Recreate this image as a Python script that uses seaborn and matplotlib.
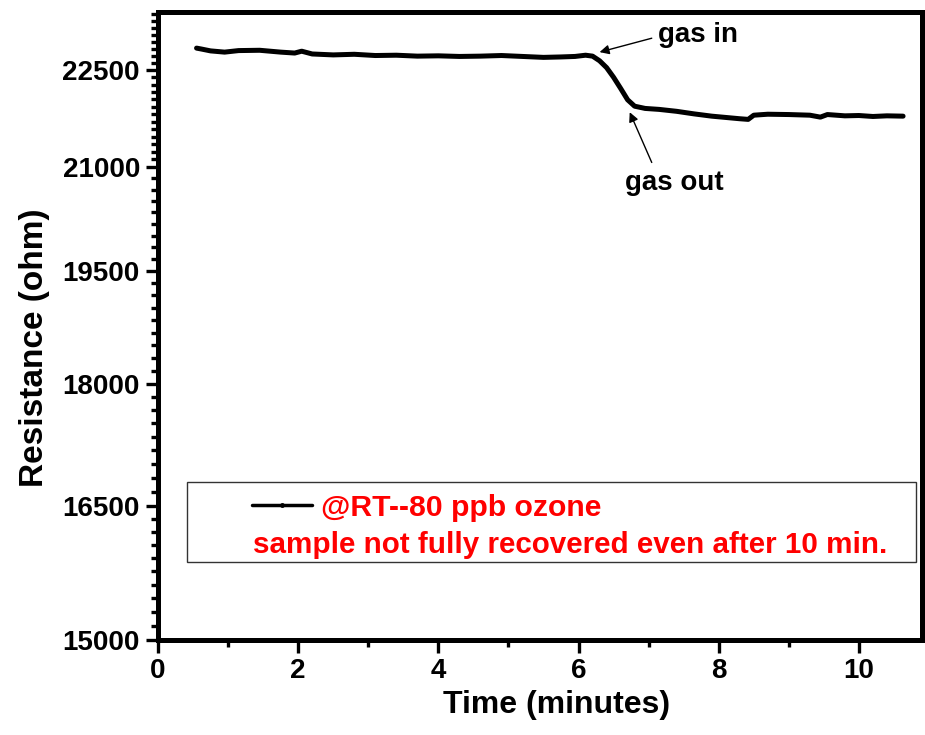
import numpy as np
import pandas as pd
import matplotlib
matplotlib.use("Agg")
import matplotlib.pyplot as plt
import seaborn as sns
from matplotlib.lines import Line2D
from matplotlib.patches import Rectangle
from matplotlib.ticker import FixedLocator, FixedFormatter, NullFormatter

# ---------------- data ----------------
time_min = [0.55, 0.62, 0.75, 0.95, 1.15, 1.45, 1.75, 1.95, 2.05, 2.2, 2.5, 2.8,
            3.1, 3.4, 3.7, 4.0, 4.3, 4.6, 4.9, 5.2, 5.5, 5.75, 5.95, 6.1, 6.2,
            6.3, 6.4, 6.5, 6.6, 6.7, 6.8, 6.95, 7.15, 7.4, 7.65, 7.9, 8.1, 8.3,
            8.42, 8.5, 8.7, 9.0, 9.3, 9.45, 9.55, 9.8, 10.0, 10.2, 10.4, 10.63]
resistance = [22855, 22840, 22810, 22790, 22815, 22820, 22790, 22775, 22805, 22760,
              22745, 22755, 22735, 22740, 22725, 22730, 22720, 22725, 22735, 22720,
              22705, 22712, 22720, 22740, 22725, 22650, 22540, 22385, 22210, 22030,
              21930, 21895, 21880, 21850, 21810, 21775, 21755, 21735, 21725, 21790,
              21805, 21800, 21790, 21760, 21800, 21780, 21785, 21770, 21780, 21775]

y_major = [15000, 16500, 18000, 19500, 21000, 22500]
y_major_labels = ["15000", "16500", "18000", "19500", "21000", "22500"]
x_major = [0, 2, 4, 6, 8, 10]
x_minor = [1, 3, 5, 7, 9]

legend_label = "@RT--80 ppb ozone"
note_label = "sample not fully recovered even after 10 min."

df = pd.DataFrame({"Time (minutes)": time_min, "Resistance (ohm)": resistance})

# ---------------- style ----------------
sns.set_style("white")
plt.rcParams["font.family"] = ["Liberation Sans", "DejaVu Sans"]
plt.rcParams["font.weight"] = "bold"
plt.rcParams["text.color"] = "black"
plt.rcParams["axes.labelcolor"] = "black"
plt.rcParams["xtick.color"] = "black"
plt.rcParams["ytick.color"] = "black"

fig = plt.figure(figsize=(9.25, 7.35), dpi=100)
W, H = 925, 735
L, R, T, B = 158, 922, 12, 640
ax = fig.add_axes([L / W, 1 - B / H, (R - L) / W, (B - T) / H])

sns.lineplot(data=df, x="Time (minutes)", y="Resistance (ohm)", ax=ax,
             color="black", linewidth=3.6, legend=False)

ax.set_yscale("log")
ax.set_xlim(0, 10.9)
ax.set_ylim(15000, 23450)

# ticks
ax.yaxis.set_major_locator(FixedLocator(y_major))
ax.yaxis.set_major_formatter(FixedFormatter(y_major_labels))
counts = [10, 9, 9, 9, 13]
minors = []
for (a, b), n in zip(zip(y_major[:-1], y_major[1:]), counts):
    minors += list(np.linspace(a, b, n + 1)[1:-1])
step = (22500 - 21000) / 13
v = 22500 + step
while v < 23450:
    minors.append(v)
    v += step
ax.yaxis.set_minor_locator(FixedLocator(minors))
ax.yaxis.set_minor_formatter(NullFormatter())
ax.xaxis.set_major_locator(FixedLocator(x_major))
ax.xaxis.set_minor_locator(FixedLocator(x_minor))

ax.tick_params(axis="both", which="major", direction="out", length=9, width=2.4,
               labelsize=20, pad=4, colors="black")
ax.tick_params(axis="both", which="minor", direction="out", length=5, width=2.4,
               colors="black")
ax.tick_params(top=False, right=False, left=True, bottom=True, which="both")
for lab in ax.get_xticklabels() + ax.get_yticklabels():
    lab.set_fontweight("bold")
    lab.set_color("black")

for s in ax.spines.values():
    s.set_linewidth(3.6)
    s.set_color("black")

ax.set_xlabel("Time (minutes)", fontsize=23, fontweight="bold", color="black")
ax.set_ylabel("Resistance (ohm)", fontsize=24, fontweight="bold", color="black")
ax.xaxis.set_label_coords((557 - L) / (R - L), (B - 690) / (B - T))
ax.yaxis.set_label_coords((50 - L) / (R - L), (B - 348) / (B - T))

# annotations
ax.annotate("gas in", xy=(6.3, 22790), xytext=(7.7, 23064),
            fontsize=20, fontweight="bold", ha="center", va="center", color="black",
            arrowprops=dict(arrowstyle="-|>", color="black", lw=1.0,
                            mutation_scale=14, relpos=(0.0, 0.45), shrinkA=2, shrinkB=0))
ax.annotate("gas out", xy=(6.73, 21836), xytext=(7.37, 20770),
            fontsize=20, fontweight="bold", ha="center", va="center", color="black",
            arrowprops=dict(arrowstyle="-|>", color="black", lw=1.0,
                            mutation_scale=14, relpos=(0.3, 1.0), shrinkA=3, shrinkB=0))

# legend box
def axx(px):
    return (px - L) / (R - L)

def axy(py):
    return (B - py) / (B - T)

ax.add_patch(Rectangle((axx(187), axy(562)), axx(916) - axx(187), axy(482) - axy(562),
                       transform=ax.transAxes, fill=False, edgecolor="#333333",
                       linewidth=1.0, zorder=5))
handle = Line2D([], [], color="black", linewidth=2.5, marker="o", markersize=2.5)
leg = ax.legend([handle], [legend_label], loc="center left",
                bbox_to_anchor=(axx(252), axy(508)), frameon=False,
                borderpad=0, borderaxespad=0, handlelength=2.0, handletextpad=0.3,
                prop={"size": 21.7, "weight": "bold"})
for t in leg.get_texts():
    t.set_color("#ff0000")
ax.text(axx(253), axy(545), note_label, transform=ax.transAxes, color="#ff0000",
        fontsize=21.3, fontweight="bold", ha="left", va="center")

fig.savefig("out.png", dpi=100)
